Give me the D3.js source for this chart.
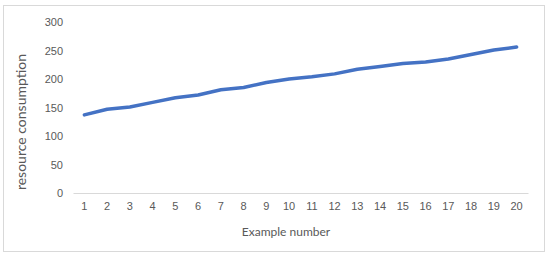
<!DOCTYPE html>
<html><head><meta charset="utf-8">
<script src="https://cdn.jsdelivr.net/npm/d3@7"></script>
<style>body{margin:0;background:#fff;}svg{display:block;font-family:Lato,"Open Sans",sans-serif;}</style>
</head><body>
<svg id="c" width="550" height="257"></svg>
<script>
const categories = ["1","2","3","4","5","6","7","8","9","10","11","12","13","14","15","16","17","18","19","20"];
const values = [137,147,151,159,167,172,181,185,194,200,204,209,217,222,227,230,235,243,251,256];
const yTicks = [0,50,100,150,200,250,300];
const xTitle = "Example number";
const yTitle = "resource consumption";

const svg = d3.select("#c");
svg.append("rect").attr("x",3.5).attr("y",5.5).attr("width",541).attr("height",246)
  .attr("fill","#fff").attr("stroke","#d9d9d9").attr("stroke-width",1);

const x = d3.scaleBand().domain(categories).range([73,528]);
const y = d3.scaleLinear().domain([0,300]).range([193,22]);

const xAxis = svg.append("g").attr("transform","translate(0,193)")
  .call(d3.axisBottom(x).tickSize(0).tickPadding(9));
xAxis.select(".domain").attr("stroke","#d9d9d9").attr("stroke-width",1.2);
xAxis.selectAll("text").attr("fill","#595959").attr("font-size","11px");

const yAxis = svg.append("g").attr("transform","translate(73,0)")
  .call(d3.axisLeft(y).tickValues(yTicks).tickSize(0).tickPadding(10));
yAxis.select(".domain").remove();
yAxis.selectAll("text").attr("fill","#595959").attr("font-size","11px");

svg.append("text").attr("x",286).attr("y",236).attr("text-anchor","middle")
  .attr("fill","#595959").attr("font-size","12px").text(xTitle);
svg.append("text").attr("transform","translate(26,122) rotate(-90)").attr("text-anchor","middle")
  .attr("fill","#595959").attr("font-size","14px").text(yTitle);

const line = d3.line().x((d,i)=>x(categories[i])+x.bandwidth()/2).y(d=>y(d));
svg.append("path").datum(values).attr("d",line).attr("fill","none")
  .attr("stroke","#4472C4").attr("stroke-width",3.5).attr("stroke-linejoin","round").attr("stroke-linecap","round");
</script>
</body></html>
